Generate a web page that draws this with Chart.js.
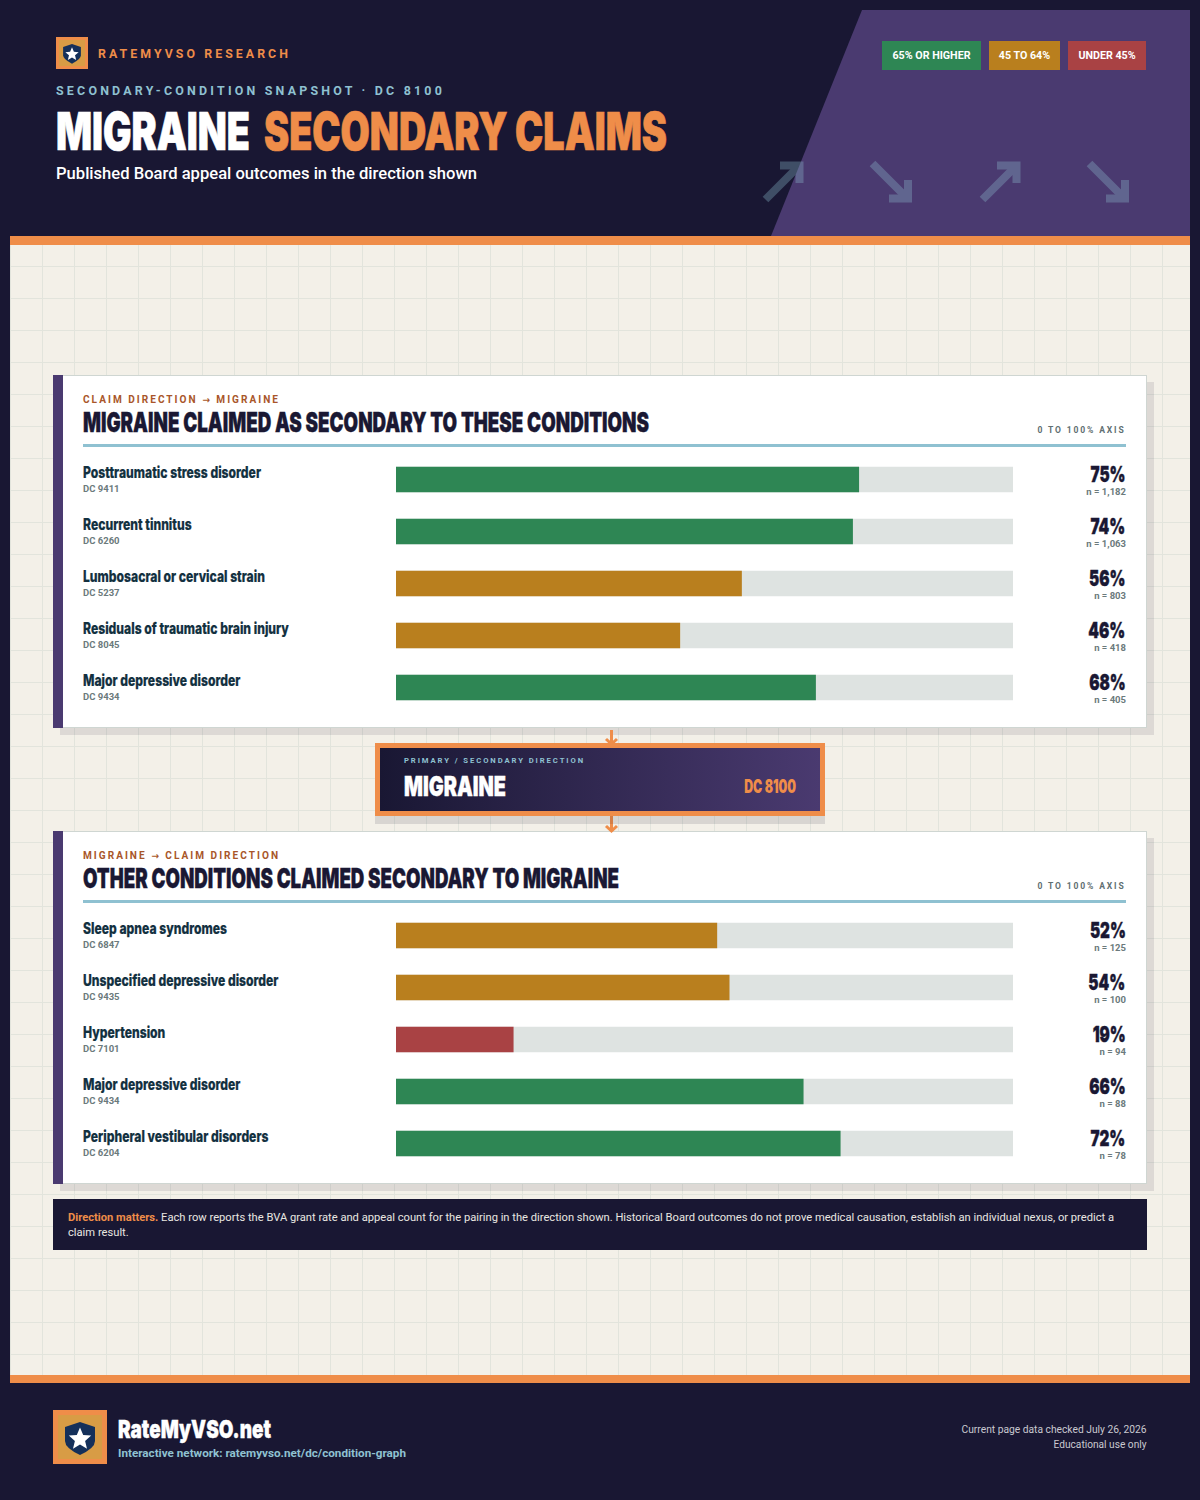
<!DOCTYPE html>
<html><head><meta charset="utf-8">
<script src="https://cdn.jsdelivr.net/npm/chart.js@4"></script>
<style>
html,body{margin:0;padding:0}
body{width:1200px;height:1500px;background:#191733;position:relative;overflow:hidden;font-family:Roboto,sans-serif}
.abs{position:absolute}
.t{position:absolute;white-space:nowrap;line-height:1;transform-origin:left center}
.t.r{transform-origin:right center;text-align:right}
.d{font-family:Inter,Roboto;font-weight:900}
.arw{font-family:"DejaVu Sans";font-weight:700}
canvas{display:block}
.card{position:absolute;left:53px;width:1094px;height:353px;background:#fff;box-sizing:border-box;border:1px solid #cfd6d2;box-shadow:7px 7px 0 rgba(26,24,51,.1)}
.card:before{content:"";position:absolute;left:-1px;top:-1px;bottom:-1px;width:10px;background:#4a3a70}
.rule{position:absolute;left:83px;width:1043px;height:3px;background:#8fc1d1}
.chip{position:absolute;top:41px;height:29px;line-height:29px;text-align:center;color:#fff;font-weight:700;font-size:10.7px}
</style></head><body>
<div id="root"></div>
<script>
const upperCategories=["Posttraumatic stress disorder","Recurrent tinnitus","Lumbosacral or cervical strain","Residuals of traumatic brain injury","Major depressive disorder"];
const upperCodes=["DC 9411","DC 6260","DC 5237","DC 8045","DC 9434"];
const upperRates=[75,74,56,46,68];
const upperCounts=["1,182","1,063","803","418","405"];
const lowerCategories=["Sleep apnea syndromes","Unspecified depressive disorder","Hypertension","Major depressive disorder","Peripheral vestibular disorders"];
const lowerCodes=["DC 6847","DC 9435","DC 7101","DC 9434","DC 6204"];
const lowerRates=[52,54,19,66,72];
const lowerCounts=["125","100","94","88","78"];
const axisMax=100;
const HIGH="#2e8654",MID="#b97f1e",LOW="#a94244",TRACK="#dee3e1";
const bandColor=v=>v>=65?HIGH:v>=45?MID:LOW;

const root=document.getElementById("root");
function el(html){const w=document.createElement("div");w.innerHTML=html;const n=w.firstElementChild;root.appendChild(n);return n;}
function text(x,cy,str,css,opt={}){
  const n=el(`<div class="t ${opt.right?'r':''} ${opt.cls||''}" style="${css}">${str}</div>`);
  n.style.top=cy+"px";
  if(opt.right){n.style.right=(1200-x)+"px";}else{n.style.left=x+"px";}
  let sx=opt.sx||1;
  if(opt.w){sx=opt.w/n.getBoundingClientRect().width;}
  n.style.transform=`translateY(-50%) scaleX(${sx})`;
  return n;
}
function styleScale(sample,css,cls,width){
  const n=el(`<div class="t ${cls}" style="${css}">${sample}</div>`);
  const s=width/n.getBoundingClientRect().width;n.remove();return s;
}
function shield(x,y,s){
 return `<svg class="abs" style="left:${x}px;top:${y}px" width="${s}" height="${s}" viewBox="0 0 54 54">
 <rect width="54" height="54" fill="#ef8d49"/><rect x="5" y="5" width="44" height="44" fill="#d89c45"/>
 <path d="M27 12 L42 17 V31 Q42 38 27 45 Q12 38 12 31 V17 Z" fill="#14305a"/>
 <path d="M27 17.5 L30.2 25 L38.2 25.6 L32.1 30.9 L34 38.7 L27 34.5 L20 38.7 L21.9 30.9 L15.8 25.6 L23.8 25 Z" fill="#fff"/></svg>`;
}
el(`<div class="abs" style="left:10px;top:245px;width:1180px;height:1130px;background-color:#f3f0e8;background-image:linear-gradient(#e2e4dc 1px,transparent 1px),linear-gradient(90deg,#e2e4dc 1px,transparent 1px);background-size:32px 32px;background-position:0 21px,32px 0"></div>`);
el(`<div class="abs" style="left:10px;top:236px;width:1180px;height:9px;background:#ef8d49"></div>`);
el(`<div class="abs" style="left:10px;top:1375px;width:1180px;height:8px;background:#ef8d49"></div>`);
el(`<svg class="abs" style="left:0;top:0" width="1200" height="240"><polygon points="862,10 1190,10 1190,236 771,236" fill="#4a3a70"/>
<g fill="none" stroke="#8fc1d1" stroke-width="8" opacity=".32">
<path d="M765.5 199.5 L799 166"/><path d="M780 165.5 H799.5 V183"/>
<path d="M872.5 163.5 L907 198"/><path d="M889 198.5 H908 V180"/>
<path transform="translate(217 0)" d="M765.5 199.5 L799 166"/><path transform="translate(217 0)" d="M780 165.5 H799.5 V183"/>
<path transform="translate(217 0)" d="M872.5 163.5 L907 198"/><path transform="translate(217 0)" d="M889 198.5 H908 V180"/>
</g></svg>`);
el(`<div class="chip" style="left:882px;width:99px;background:${HIGH}">65% OR HIGHER</div>`);
el(`<div class="chip" style="left:989px;width:71px;background:${MID}">45 TO 64%</div>`);
el(`<div class="chip" style="left:1068px;width:78px;background:${LOW}">UNDER 45%</div>`);
el(shield(56,37,32));
text(98,53.5,"RATEMYVSO RESEARCH","color:#ef8d49;font-weight:700;font-size:12.5px;letter-spacing:3.1px",{w:193});
text(56,90.5,"SECONDARY-CONDITION SNAPSHOT · DC 8100","color:#8fc1d1;font-weight:700;font-size:12px;letter-spacing:3.1px",{w:389});
text(56,132,"MIGRAINE","color:#fff;font-size:52px;-webkit-text-stroke:.7px #fff",{cls:"d",w:194});
text(264,132,"SECONDARY CLAIMS","color:#ef8d49;font-size:52px;-webkit-text-stroke:.7px #ef8d49",{cls:"d",w:403});
text(56,173.5,"Published Board appeal outcomes in the direction shown","color:#fff;font-weight:500;font-size:16.5px",{w:421});

const nameCss="color:#12303f;font-size:15.5px;font-weight:800;-webkit-text-stroke:.2px #12303f";
const valCss="color:#1a1833;font-size:22px;-webkit-text-stroke:.4px #1a1833";
function panel(top,eyebrow,title,titleW,eyebrowW,cats,codes,rates,counts,id){
  el(`<div class="card" style="top:${top}px"></div>`);
  text(83,top+24.5,eyebrow,"color:#a9562a;font-weight:700;font-size:10.5px;letter-spacing:2.1px",{w:eyebrowW});
  text(83,top+48,title,"color:#1a1833;font-size:27.5px;-webkit-text-stroke:.4px #1a1833",{cls:"d",w:titleW});
  el(`<div class="rule" style="top:${top+69}px"></div>`);
  text(1126,top+54.5,"0 TO 100% AXIS","color:#5f6f72;font-weight:700;font-size:9.3px;letter-spacing:2px",{right:true,w:88});
  el(`<div class="abs" style="left:396px;top:${top+78}px;width:617px;height:261px"><canvas id="${id}" width="617" height="261"></canvas></div>`);
  const chart=new Chart(document.getElementById(id),{
    type:"bar",
    data:{labels:cats,datasets:[
      {data:rates,backgroundColor:rates.map(bandColor),barThickness:25,grouped:false,order:1},
      {data:rates.map(()=>axisMax),backgroundColor:TRACK,barThickness:25,grouped:false,order:2}
    ]},
    options:{indexAxis:"y",responsive:false,animation:false,
      layout:{padding:{top:.5,bottom:.5,left:0,right:0}},
      plugins:{legend:{display:false},tooltip:{enabled:false}},
      scales:{x:{display:false,min:0,max:axisMax},y:{display:false}},
      datasets:{bar:{grouped:false,borderWidth:0}}}
  });
  const origin=top+77.8;
  const nameScale=styleScale("Posttraumatic stress disorder",nameCss,"d",178);
  const valScale=styleScale("75%",valCss,"d",35);
  cats.forEach((c,i)=>{
    const cy=origin+chart.scales.y.getPixelForValue(i);
    text(83,cy-6.5,c,nameCss,{cls:"d",sx:nameScale});
    text(83,cy+9.8,codes[i],"color:#6b7a7c;font-weight:700;font-size:9.5px",{});
    text(1125.5,cy-5,rates[i]+"%",valCss,{cls:"d",right:true,sx:valScale});
    text(1126,cy+12.8,"n = "+counts[i],"color:#6b7a7c;font-weight:700;font-size:9.5px",{right:true});
  });
}
const AR='<span class="arw" style="font-size:9.5px">→</span>';
panel(375,"CLAIM DIRECTION "+AR+" MIGRAINE","MIGRAINE CLAIMED AS SECONDARY TO THESE CONDITIONS",566,197,upperCategories,upperCodes,upperRates,upperCounts,"upper");
panel(831,"MIGRAINE "+AR+" CLAIM DIRECTION","OTHER CONDITIONS CLAIMED SECONDARY TO MIGRAINE",536,197,lowerCategories,lowerCodes,lowerRates,lowerCounts,"lower");

el(`<svg class="abs" style="left:600px;top:728px" width="24" height="108"><g fill="none" stroke="#ef8d49" stroke-width="3"><path d="M11.5 2 V16"/><path d="M6 11 L11.5 16 L17 11"/><path d="M11.5 88 V103"/><path d="M6 98 L11.5 103 L17 98"/></g></svg>`);
el(`<div class="abs" style="left:375px;top:743px;width:450px;height:73px;box-sizing:border-box;border:5px solid #ef8d49;background:linear-gradient(90deg,#191733,#4a3a70);box-shadow:0 8px 0 rgba(26,24,51,.12)"></div>`);
text(404,760.5,"PRIMARY / SECONDARY DIRECTION","color:#8fc1d1;font-weight:700;font-size:8px;letter-spacing:2px",{w:181});
text(404,787,"MIGRAINE","color:#fff;font-size:27.5px;-webkit-text-stroke:.4px #fff",{cls:"d",w:102});
text(796.5,786,"DC 8100","color:#ef8d49;font-size:18.5px",{cls:"d",right:true,w:52});
el(`<div class="abs" style="left:53px;top:1199px;width:1094px;height:51px;background:#191733"></div>`);
el(`<div class="abs" style="left:68px;top:1209.5px;white-space:nowrap;font-size:11.16px;line-height:15px;color:#e9e7e1;font-family:Roboto"><b style="color:#ef8d49">Direction matters.</b> Each row reports the BVA grant rate and appeal count for the pairing in the direction shown. Historical Board outcomes do not prove medical causation, establish an individual nexus, or predict a<br>claim result.</div>`);
el(shield(53,1410,54));
text(118,1429,"RateMyVSO.net","color:#fff;font-size:25px;-webkit-text-stroke:.4px #fff",{cls:"d",w:153});
text(118,1453,"Interactive network: ratemyvso.net/dc/condition-graph","color:#8fc1d1;font-weight:700;font-size:11px",{w:288});
text(1147,1429.5,"Current page data checked July 26, 2026","color:#c9c9d0;font-size:10px",{right:true,w:185});
text(1147,1444.5,"Educational use only","color:#c9c9d0;font-size:10px",{right:true,w:93});
</script>
</body></html>
